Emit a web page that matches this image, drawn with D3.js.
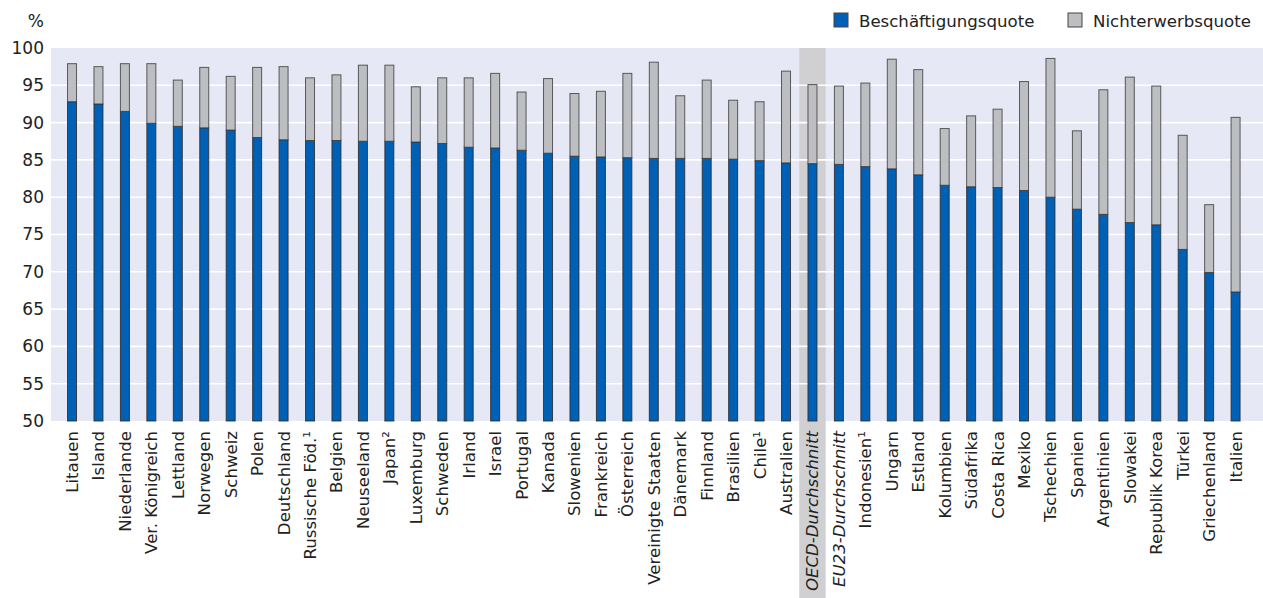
<!DOCTYPE html>
<html>
<head>
<meta charset="utf-8">
<script src="https://cdn.jsdelivr.net/npm/d3@7"></script>
<style>
	body { margin: 0; background: #fff; }
	svg text { font-family: "DejaVu Sans", sans-serif; fill: #222; }
</style>
</head>
<body>
<svg id="chart" width="1263" height="598"></svg>
<script>
const countries = [
	"Litauen", "Island", "Niederlande", "Ver. Königreich", "Lettland", "Norwegen", "Schweiz", "Polen",
	"Deutschland", "Russische Föd.¹", "Belgien", "Neuseeland", "Japan²", "Luxemburg", "Schweden", "Irland",
	"Israel", "Portugal", "Kanada", "Slowenien", "Frankreich", "Österreich", "Vereinigte Staaten", "Dänemark",
	"Finnland", "Brasilien", "Chile¹", "Australien", "OECD-Durchschnitt", "EU23-Durchschnitt", "Indonesien¹",
	"Ungarn", "Estland", "Kolumbien", "Südafrika", "Costa Rica", "Mexiko", "Tschechien", "Spanien",
	"Argentinien", "Slowakei", "Republik Korea", "Türkei", "Griechenland", "Italien"
];
const employment = [
	92.8, 92.5, 91.5, 89.9, 89.5, 89.3, 89.0, 88.0,
	87.7, 87.6, 87.6, 87.5, 87.5, 87.4, 87.2, 86.7,
	86.6, 86.3, 85.9, 85.5, 85.4, 85.3, 85.2, 85.2,
	85.2, 85.1, 84.9, 84.6, 84.5, 84.4, 84.1,
	83.8, 83.0, 81.6, 81.4, 81.3, 80.9, 80.0, 78.4,
	77.7, 76.6, 76.3, 73.0, 69.9, 67.3
];
const inactivity = [
	5.1, 5.0, 6.4, 8.0, 6.2, 8.1, 7.2, 9.4,
	9.8, 8.4, 8.8, 10.2, 10.2, 7.4, 8.8, 9.3,
	10.0, 7.8, 10.0, 8.4, 8.8, 11.3, 12.9, 8.4,
	10.5, 7.9, 7.9, 12.3, 10.6, 10.5, 11.2,
	14.7, 14.1, 7.6, 9.5, 10.5, 14.6, 18.6, 10.5,
	16.7, 19.5, 18.6, 15.3, 9.1, 23.4
];
const averages = ["OECD-Durchschnitt", "EU23-Durchschnitt"];
const highlighted = "OECD-Durchschnitt";
const yTicks = [50, 55, 60, 65, 70, 75, 80, 85, 90, 95, 100];

const BLUE = "#0060b5";
const GREY = "#bdbec2";
const plot = {left: 51, right: 1263, top: 48, bottom: 421};

const svg = d3.select("#chart");

const x = d3.scaleBand()
	.domain(countries)
	.range([58.8, 1248.8])
	.paddingInner(0.66)
	.paddingOuter(0.33);

const y = d3.scaleLinear()
	.domain([50, 100])
	.range([plot.bottom, plot.top]);

// plot background
svg.append("rect")
	.attr("x", plot.left)
	.attr("y", plot.top)
	.attr("width", plot.right - plot.left)
	.attr("height", plot.bottom - plot.top)
	.attr("fill", "#e6e8f5");

// highlight band for the OECD average, runs down through the labels
const bandCenter = x(highlighted) + x.bandwidth() / 2;
svg.append("rect")
	.attr("x", bandCenter - x.step() / 2)
	.attr("y", plot.top)
	.attr("width", x.step())
	.attr("height", 598 - plot.top)
	.attr("fill", "#d0d0d2");

// gridlines
svg.append("g")
	.selectAll("line")
	.data(yTicks.filter(t => t > 50 && t < 100))
	.join("line")
	.attr("x1", plot.left)
	.attr("x2", plot.right)
	.attr("y1", d => y(d))
	.attr("y2", d => y(d))
	.attr("stroke", "#fff")
	.attr("stroke-width", 1.6);

// y axis labels
const yAxis = d3.axisLeft(y).tickValues(yTicks).tickSize(0).tickPadding(7);
const yg = svg.append("g")
	.attr("transform", `translate(${plot.left},0)`)
	.call(yAxis);
yg.select(".domain").remove();
yg.selectAll("text")
	.attr("font-size", 17)
	.attr("font-family", "DejaVu Sans, sans-serif")
	.attr("fill", "#222");

svg.append("text")
	.attr("x", 44)
	.attr("y", 27)
	.attr("text-anchor", "end")
	.attr("font-size", 17)
	.text("%");

// bars
const rows = countries.map((c, i) => ({c, emp: employment[i], inact: inactivity[i]}));
const bars = svg.append("g");

bars.selectAll("rect.emp")
	.data(rows)
	.join("rect")
	.attr("class", "emp")
	.attr("x", d => x(d.c))
	.attr("width", x.bandwidth())
	.attr("y", d => y(d.emp))
	.attr("height", d => y(50) - y(d.emp))
	.attr("fill", BLUE)
	.attr("stroke", "#2b2b2b")
	.attr("stroke-opacity", 0.85)
	.attr("stroke-width", 1);

bars.selectAll("rect.inact")
	.data(rows)
	.join("rect")
	.attr("class", "inact")
	.attr("x", d => x(d.c))
	.attr("width", x.bandwidth())
	.attr("y", d => y(d.emp + d.inact))
	.attr("height", d => y(d.emp) - y(d.emp + d.inact))
	.attr("fill", GREY)
	.attr("stroke", "#3a3a3a")
	.attr("stroke-opacity", 0.8)
	.attr("stroke-width", 1);

// x labels, rotated
const xg = svg.append("g")
	.attr("transform", `translate(0,${plot.bottom})`)
	.call(d3.axisBottom(x).tickSize(0).tickPadding(0));
xg.select(".domain").remove();
xg.selectAll("text")
	.attr("font-size", 16.6)
	.attr("font-family", "DejaVu Sans, sans-serif")
	.attr("fill", "#222")
	.attr("text-anchor", "end")
	.attr("transform", "rotate(-90)")
	.attr("x", -10)
	.attr("y", 0)
	.attr("dy", "0.36em")
	.attr("font-style", d => averages.includes(d) ? "italic" : null);

// legend
const legendItems = [
	{label: "Beschäftigungsquote", color: BLUE, x: 834},
	{label: "Nichterwerbsquote", color: GREY, x: 1068}
];
const legend = svg.append("g")
	.selectAll("g")
	.data(legendItems)
	.join("g")
	.attr("transform", d => `translate(${d.x},13)`);
legend.append("rect")
	.attr("width", 14)
	.attr("height", 14)
	.attr("fill", d => d.color)
	.attr("stroke", "#444")
	.attr("stroke-width", 1);
legend.append("text")
	.attr("x", 25)
	.attr("y", 13.5)
	.attr("font-size", 16.6)
	.text(d => d.label);
</script>
</body>
</html>
